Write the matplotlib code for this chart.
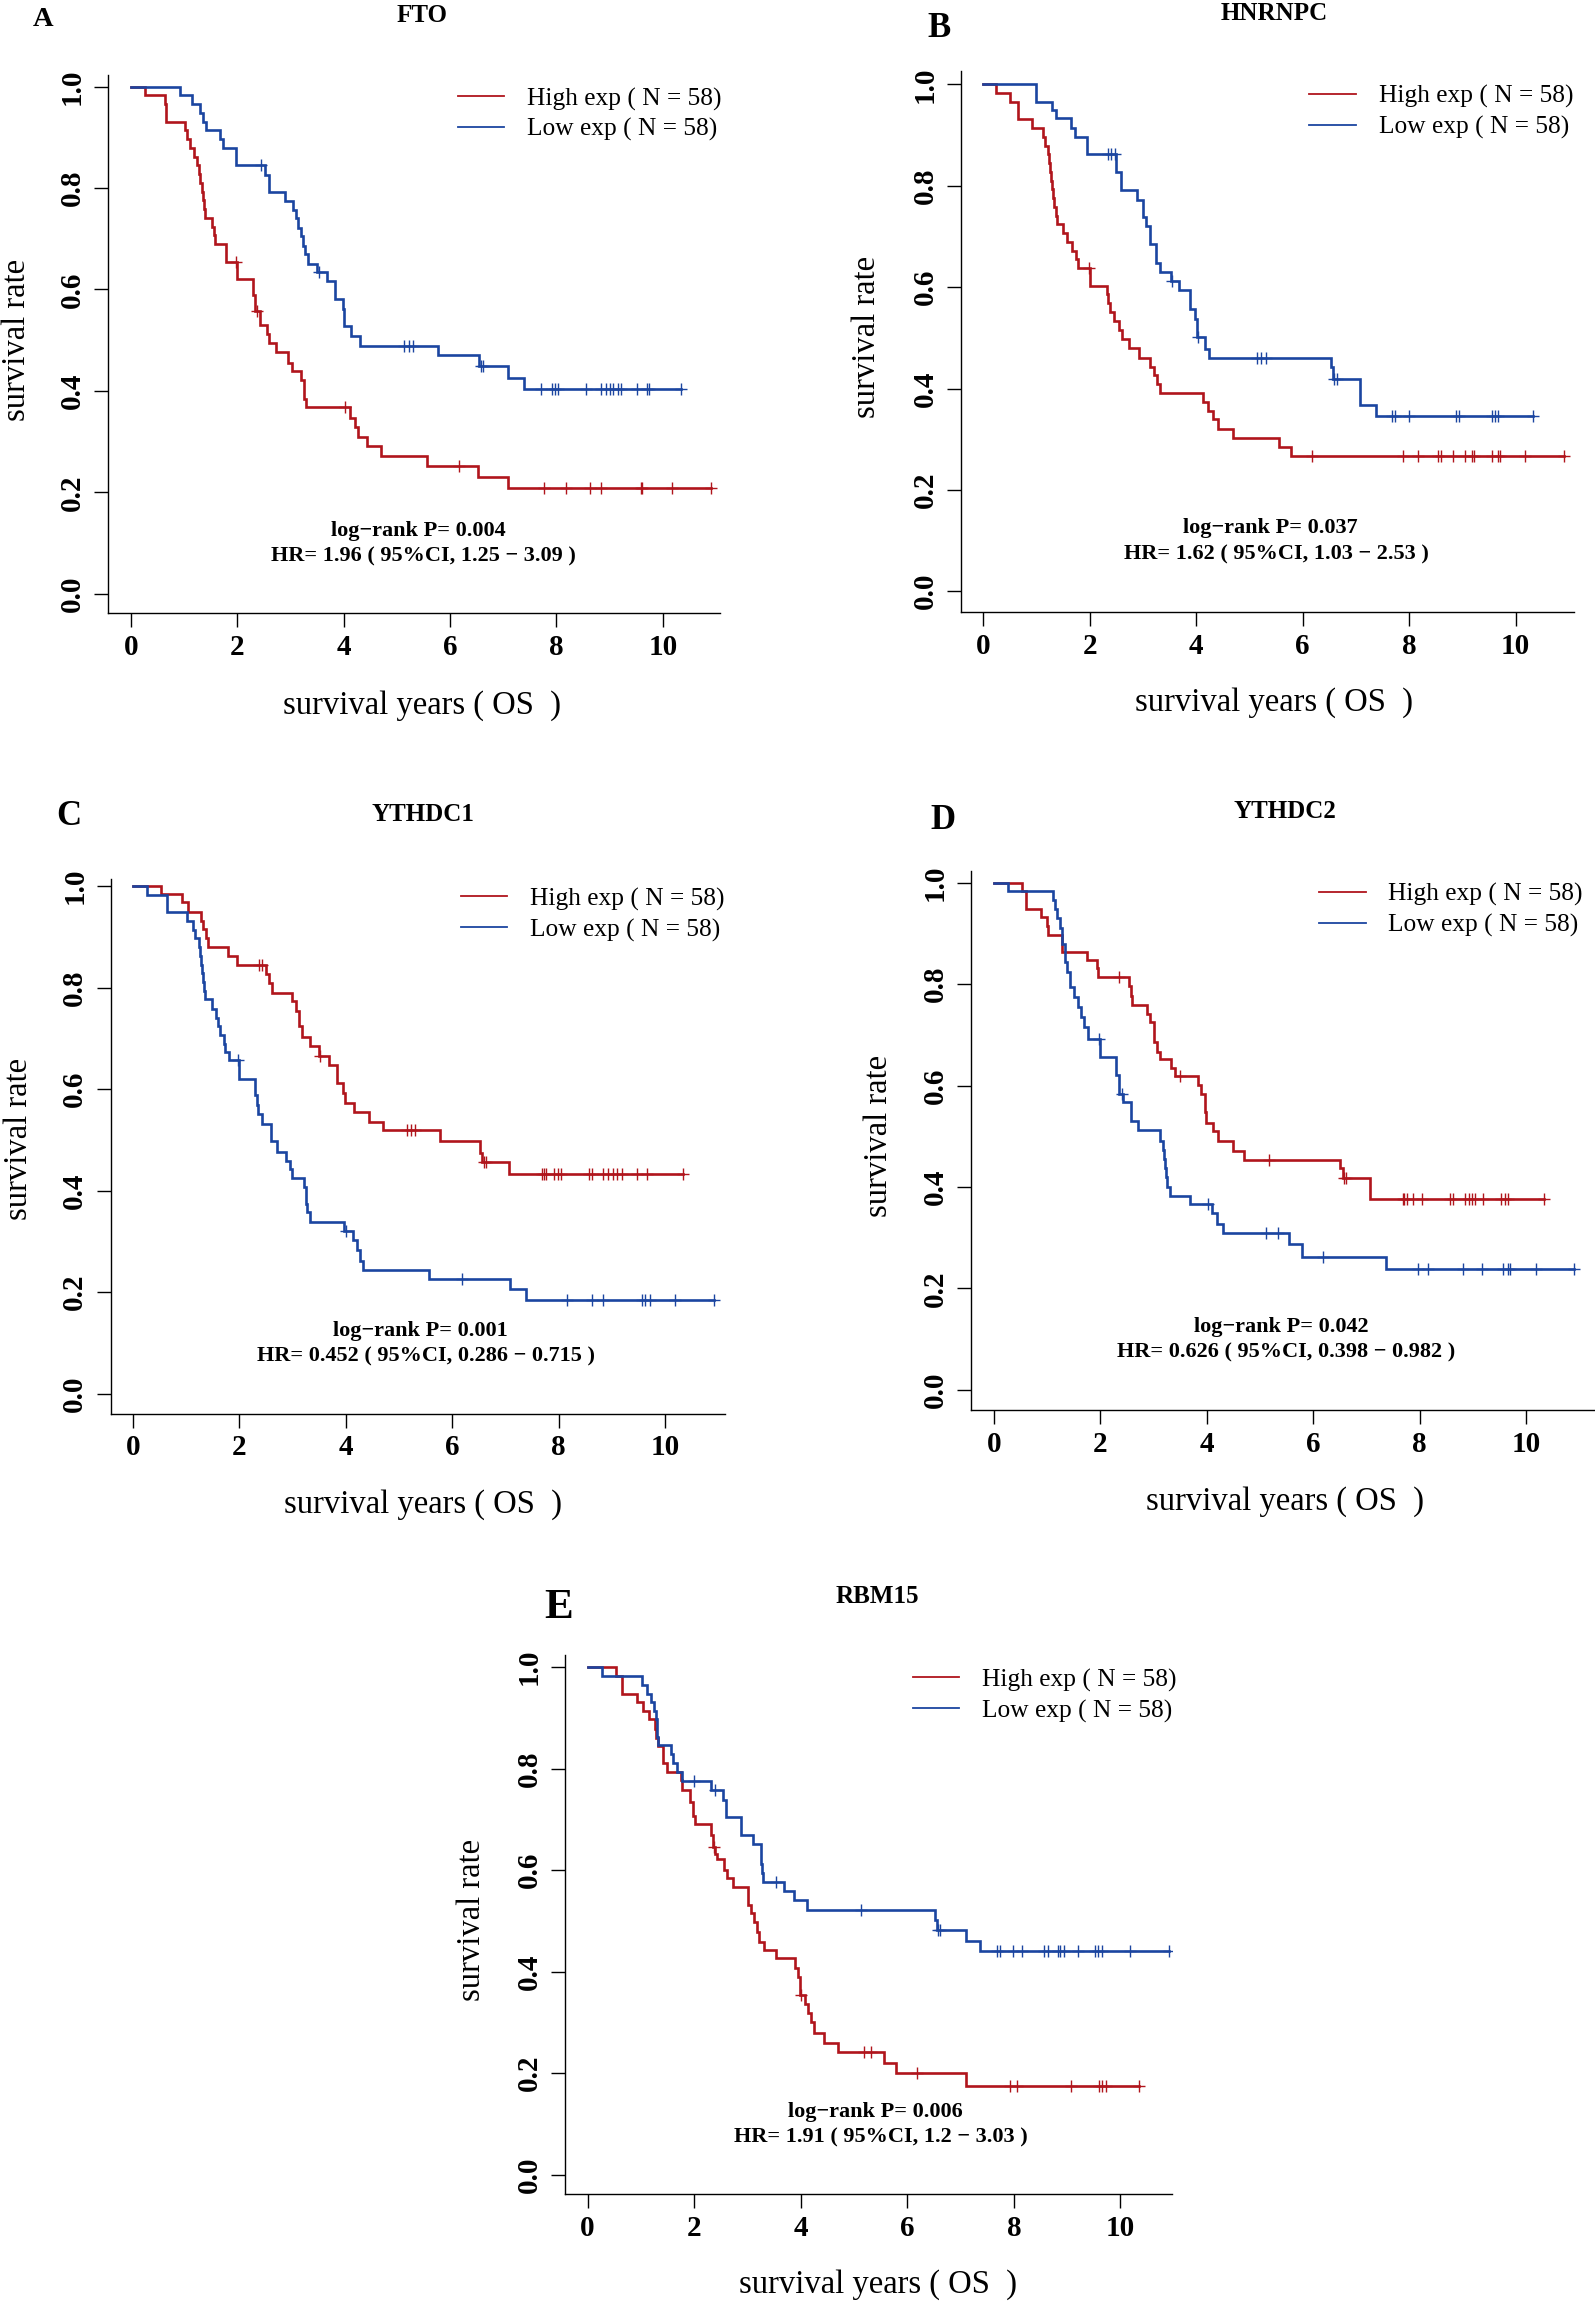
import numpy as np
import matplotlib
matplotlib.use("Agg")
import matplotlib.pyplot as plt
from matplotlib.lines import Line2D

plt.rcParams['font.family'] = ['Liberation Serif', 'DejaVu Serif']

W, H = 1595, 2303
RED = '#B0151C'
BLUE = '#1B45A0'

# ---- data: step times (years), survival after each step, censor times ----
fto_high_t = [0.27, 0.64, 0.66, 1.02, 1.06, 1.12, 1.19, 1.24, 1.28, 1.30, 1.33, 1.35, 1.37, 1.40, 1.52, 1.57, 1.59,
              1.78, 2.00, 2.30, 2.33, 2.43, 2.55, 2.60, 2.73, 2.96, 3.02, 3.19, 3.26, 3.30, 4.12, 4.22, 4.26, 4.44,
              4.71, 5.57, 6.53, 7.09]
fto_high_s = [0.983, 0.966, 0.931, 0.914, 0.897, 0.879, 0.862, 0.845, 0.828, 0.810, 0.793, 0.776, 0.759, 0.741,
              0.724, 0.707, 0.690, 0.655, 0.621, 0.590, 0.558, 0.530, 0.512, 0.495, 0.477, 0.456, 0.440, 0.421,
              0.384, 0.368, 0.347, 0.328, 0.310, 0.291, 0.271, 0.251, 0.231, 0.209]
fto_high_c = [1.98, 2.37, 4.03, 6.17, 7.76, 8.18, 8.63, 8.83, 9.58, 9.61, 10.17, 10.91]
fto_low_t = [0.93, 1.14, 1.29, 1.35, 1.41, 1.68, 1.73, 1.98, 2.53, 2.60, 2.90, 3.05, 3.11, 3.14, 3.19, 3.23, 3.28,
             3.32, 3.50, 3.69, 3.84, 3.99, 4.01, 4.14, 4.30, 5.78, 6.55, 7.09, 7.38]
fto_low_s = [0.983, 0.966, 0.948, 0.931, 0.914, 0.897, 0.879, 0.845, 0.826, 0.793, 0.775, 0.756, 0.740, 0.722,
             0.705, 0.686, 0.670, 0.651, 0.635, 0.617, 0.582, 0.561, 0.528, 0.508, 0.489, 0.471, 0.449, 0.426, 0.403]
fto_low_c = [2.44, 3.53, 5.13, 5.22, 5.31, 6.58, 6.62, 7.70, 7.91, 7.97, 8.03, 8.56, 8.83, 8.93, 9.00, 9.06, 9.15,
             9.22, 9.52, 9.70, 9.74, 10.34]

hnrnpc_high_t = [0.25, 0.51, 0.65, 0.91, 1.13, 1.16, 1.21, 1.24, 1.26, 1.28, 1.30, 1.32, 1.34, 1.36, 1.39, 1.50,
                 1.58, 1.67, 1.75, 1.78, 2.00, 2.32, 2.35, 2.38, 2.45, 2.55, 2.60, 2.74, 2.92, 3.14, 3.20, 3.27,
                 3.32, 4.13, 4.22, 4.31, 4.41, 4.69, 5.55, 5.78]
hnrnpc_high_s = [0.983, 0.966, 0.931, 0.914, 0.897, 0.879, 0.862, 0.845, 0.828, 0.810, 0.793, 0.776, 0.759, 0.741,
                 0.724, 0.707, 0.690, 0.672, 0.655, 0.638, 0.603, 0.586, 0.569, 0.552, 0.534, 0.515, 0.498, 0.480,
                 0.461, 0.443, 0.427, 0.408, 0.391, 0.373, 0.356, 0.339, 0.321, 0.302, 0.284, 0.267]
hnrnpc_high_c = [1.99, 6.17, 7.89, 8.17, 8.54, 8.60, 8.82, 9.05, 9.17, 9.21, 9.56, 9.66, 9.70, 10.17, 10.91]
hnrnpc_low_t = [1.00, 1.30, 1.37, 1.65, 1.73, 1.95, 2.50, 2.58, 2.88, 3.00, 3.06, 3.14, 3.25, 3.32, 3.53, 3.67,
                3.88, 3.97, 4.01, 4.16, 4.24, 6.53, 6.56, 7.08, 7.38]
hnrnpc_low_s = [0.966, 0.950, 0.933, 0.915, 0.897, 0.863, 0.827, 0.791, 0.773, 0.739, 0.720, 0.685, 0.648, 0.629,
                0.613, 0.594, 0.557, 0.538, 0.501, 0.478, 0.461, 0.443, 0.419, 0.368, 0.345]
hnrnpc_low_c = [2.34, 2.40, 2.47, 3.55, 4.04, 5.15, 5.22, 5.32, 6.58, 6.64, 7.68, 7.73, 8.00, 8.87, 8.93, 9.55,
                9.61, 9.67, 10.32]

ythdc1_high_t = [0.53, 0.92, 1.04, 1.29, 1.31, 1.38, 1.41, 1.79, 1.95, 2.51, 2.56, 2.62, 2.99, 3.06, 3.13, 3.17,
                 3.33, 3.49, 3.68, 3.83, 3.95, 3.99, 4.15, 4.44, 4.70, 5.77, 6.52, 6.56, 7.07]
ythdc1_high_s = [0.984, 0.968, 0.948, 0.931, 0.915, 0.898, 0.879, 0.863, 0.844, 0.826, 0.809, 0.790, 0.773, 0.754,
                 0.725, 0.702, 0.685, 0.666, 0.647, 0.611, 0.593, 0.573, 0.554, 0.535, 0.519, 0.497, 0.475, 0.456,
                 0.433]
ythdc1_high_c = [2.38, 2.42, 3.52, 5.15, 5.23, 5.30, 6.59, 6.64, 7.68, 7.72, 7.77, 7.91, 7.98, 8.05, 8.57, 8.63,
                 8.84, 8.93, 9.03, 9.09, 9.19, 9.48, 9.66, 10.33]
ythdc1_low_t = [0.26, 0.65, 1.01, 1.13, 1.17, 1.24, 1.26, 1.28, 1.30, 1.31, 1.33, 1.35, 1.49, 1.56, 1.60, 1.64,
                1.71, 1.74, 1.80, 2.00, 2.30, 2.33, 2.35, 2.42, 2.59, 2.70, 2.88, 2.95, 2.99, 3.22, 3.25, 3.28,
                3.33, 3.97, 4.13, 4.22, 4.26, 4.32, 5.56, 7.09, 7.39]
ythdc1_low_s = [0.982, 0.948, 0.931, 0.914, 0.898, 0.879, 0.862, 0.845, 0.828, 0.810, 0.793, 0.777, 0.758, 0.740,
                0.724, 0.707, 0.688, 0.674, 0.657, 0.619, 0.588, 0.568, 0.550, 0.532, 0.497, 0.477, 0.458, 0.442,
                0.425, 0.407, 0.374, 0.357, 0.339, 0.320, 0.302, 0.283, 0.261, 0.244, 0.225, 0.206, 0.185]
ythdc1_low_c = [1.97, 4.00, 6.18, 8.16, 8.63, 8.84, 9.57, 9.62, 9.71, 10.18, 10.91]

ythdc2_high_t = [0.52, 0.61, 0.89, 0.99, 1.02, 1.28, 1.75, 1.93, 1.95, 2.54, 2.57, 2.60, 2.88, 2.94, 3.00, 3.01,
                 3.06, 3.12, 3.33, 3.40, 3.84, 3.89, 3.96, 3.97, 3.99, 4.12, 4.21, 4.49, 4.70, 6.51, 6.56, 7.07]
ythdc2_high_s = [0.983, 0.949, 0.932, 0.914, 0.897, 0.863, 0.847, 0.831, 0.815, 0.796, 0.777, 0.758, 0.742, 0.725,
                 0.705, 0.686, 0.667, 0.653, 0.634, 0.618, 0.602, 0.583, 0.565, 0.548, 0.526, 0.510, 0.491, 0.471,
                 0.454, 0.438, 0.417, 0.376]
ythdc2_high_c = [2.35, 3.49, 5.17, 6.58, 6.61, 7.68, 7.71, 7.77, 7.88, 8.05, 8.58, 8.62, 8.86, 8.92, 8.98, 9.04,
                 9.20, 9.53, 9.60, 9.67, 10.33]
ythdc2_low_t = [0.26, 1.10, 1.14, 1.19, 1.24, 1.28, 1.33, 1.37, 1.42, 1.51, 1.58, 1.64, 1.70, 1.77, 2.00, 2.30,
                2.35, 2.42, 2.58, 2.70, 3.12, 3.17, 3.20, 3.22, 3.23, 3.25, 3.31, 3.68, 4.10, 4.19, 4.30, 5.54,
                5.79, 7.37]
ythdc2_low_s = [0.983, 0.966, 0.949, 0.930, 0.911, 0.880, 0.844, 0.825, 0.794, 0.774, 0.755, 0.736, 0.715, 0.691,
                0.656, 0.620, 0.583, 0.567, 0.531, 0.512, 0.490, 0.473, 0.455, 0.437, 0.419, 0.401, 0.383, 0.366,
                0.349, 0.328, 0.309, 0.287, 0.263, 0.239]
ythdc2_low_c = [1.98, 2.40, 4.02, 5.12, 5.33, 6.19, 7.97, 8.16, 8.81, 9.18, 9.57, 9.67, 9.69, 10.19, 10.90]

rbm15_high_t = [0.54, 0.64, 0.93, 1.05, 1.16, 1.26, 1.29, 1.32, 1.41, 1.50, 1.75, 1.78, 1.93, 1.97, 2.02, 2.32,
                2.35, 2.40, 2.43, 2.57, 2.62, 2.73, 3.02, 3.07, 3.13, 3.18, 3.22, 3.32, 3.54, 3.89, 3.95, 3.98,
                3.99, 4.09, 4.14, 4.20, 4.25, 4.43, 4.70, 5.57, 5.78, 7.10]
rbm15_high_s = [0.982, 0.947, 0.931, 0.914, 0.897, 0.878, 0.861, 0.844, 0.811, 0.794, 0.777, 0.758, 0.734, 0.706,
                0.690, 0.669, 0.646, 0.632, 0.621, 0.600, 0.584, 0.567, 0.531, 0.515, 0.497, 0.478, 0.459, 0.443,
                0.427, 0.408, 0.390, 0.371, 0.354, 0.336, 0.318, 0.300, 0.280, 0.260, 0.242, 0.221, 0.200, 0.175]
rbm15_high_c = [2.37, 4.01, 5.19, 5.32, 6.19, 7.92, 8.05, 9.07, 9.60, 9.66, 9.72, 10.35]
rbm15_low_t = [0.27, 1.02, 1.11, 1.20, 1.25, 1.28, 1.30, 1.31, 1.33, 1.56, 1.61, 1.68, 1.77, 2.32, 2.54, 2.59,
               2.88, 3.11, 3.25, 3.28, 3.30, 3.69, 3.87, 4.11, 6.52, 6.56, 7.10, 7.37]
rbm15_low_s = [0.982, 0.964, 0.947, 0.931, 0.914, 0.897, 0.880, 0.863, 0.847, 0.828, 0.810, 0.794, 0.775, 0.758,
               0.739, 0.704, 0.669, 0.651, 0.613, 0.594, 0.576, 0.559, 0.541, 0.522, 0.501, 0.483, 0.461, 0.441]
rbm15_low_c = [2.00, 2.40, 3.54, 5.13, 6.57, 6.62, 7.69, 7.74, 7.98, 8.16, 8.57, 8.64, 8.82, 8.86, 8.94, 9.21,
               9.53, 9.57, 9.66, 10.18, 10.91]

genes = ['FTO', 'HNRNPC', 'YTHDC1', 'YTHDC2', 'RBM15']
letters = ['A', 'B', 'C', 'D', 'E']
pvals = ['0.004', '0.037', '0.001', '0.042', '0.006']
hr_text = ['1.96 ( 95%CI, 1.25 \u2212 3.09 )', '1.62 ( 95%CI, 1.03 \u2212 2.53 )',
           '0.452 ( 95%CI, 0.286 \u2212 0.715 )', '0.626 ( 95%CI, 0.398 \u2212 0.982 )',
           '1.91 ( 95%CI, 1.2 \u2212 3.03 )']
high_curves = [(fto_high_t, fto_high_s, fto_high_c), (hnrnpc_high_t, hnrnpc_high_s, hnrnpc_high_c),
               (ythdc1_high_t, ythdc1_high_s, ythdc1_high_c), (ythdc2_high_t, ythdc2_high_s, ythdc2_high_c),
               (rbm15_high_t, rbm15_high_s, rbm15_high_c)]
low_curves = [(fto_low_t, fto_low_s, fto_low_c), (hnrnpc_low_t, hnrnpc_low_s, hnrnpc_low_c),
              (ythdc1_low_t, ythdc1_low_s, ythdc1_low_c), (ythdc2_low_t, ythdc2_low_s, ythdc2_low_c),
              (rbm15_low_t, rbm15_low_s, rbm15_low_c)]
xticks = [0, 2, 4, 6, 8, 10]
yticks = [0.0, 0.2, 0.4, 0.6, 0.8, 1.0]

# ---- layout in pixels of the reference image ----
# axes box: left, right, top, bottom ; xlim ; ylim
boxes = [(107.6, 719.8, 75.5, 613.5, (-0.438, 11.07), (-0.039, 1.022)),
         (960.9, 1573.8, 70.8, 612.0, (-0.417, 11.09), (-0.041, 1.027)),
         (110.5, 724.7, 879.4, 1413.5, (-0.419, 11.12), (-0.039, 1.013)),
         (970.8, 1593.6, 871.1, 1410.2, (-0.436, 11.27), (-0.040, 1.023)),
         (565.2, 1171.6, 1654.8, 2194.1, (-0.419, 10.96), (-0.038, 1.024))]
ylab_pos = [(17, 340), (867, 337.4), (18.4, 1138.7), (878.3, 1136.3), (472.1, 1920.2)]
xlab_pos = [(421.7, 705.5), (1273.8, 702.2), (422.7, 1504.7), (1284.7, 1501.3), (877.8, 2285.1)]
title_pos = [(421.7, 22.2), (1273.8, 19.8), (422.7, 821.2), (1284.7, 817.8), (877.8, 1602.7)]
letter_pos = [(42.7, 26, 20.5), (938.6, 36.8, 25), (69.3, 824.6, 25), (942.6, 829.4, 25), (558.4, 1617.8, 31)]
legend_pos = [(458, 114.4), (1309.4, 112), (460.5, 914.6), (1319.3, 910.2), (913.2, 1695.6)]


def fx(x):
    return x / W


def fy(y):
    return 1 - y / H


def km_plot(ax, t, s, c, color):
    t = np.asarray(t)
    s = np.asarray(s)
    c = np.asarray(c)
    end = max(c.max(), t.max())
    xs = np.concatenate([[0.0], t, [end]])
    ys = np.concatenate([[1.0], s, [s[-1]]])
    ax.step(xs, ys, where='post', color=color, lw=1.9, solid_joinstyle='miter')
    levels = np.concatenate([[1.0], s])
    cy = levels[np.searchsorted(t, c, side='right')]
    ax.plot(c, cy, ls='none', marker='+', ms=8.5, mew=1.0, color=color)


fig = plt.figure(figsize=(W / 100, H / 100), dpi=100)

for i in range(5):
    l, r, tp, b, xl, yl = boxes[i]
    ax = fig.add_axes([fx(l), fy(b), (r - l) / W, (b - tp) / H])
    km_plot(ax, *high_curves[i], RED)
    km_plot(ax, *low_curves[i], BLUE)
    ax.set_xlim(*xl)
    ax.set_ylim(*yl)
    ax.spines['top'].set_visible(False)
    ax.spines['right'].set_visible(False)
    for sp in ('left', 'bottom'):
        ax.spines[sp].set_linewidth(1.0)
    ax.set_xticks(xticks)
    ax.set_xticklabels([str(v) for v in xticks], fontsize=21, fontweight='bold')
    ax.set_yticks(yticks)
    ax.set_yticklabels(['%.1f' % v for v in yticks], fontsize=21, fontweight='bold',
                       rotation=90, va='center')
    ax.tick_params(axis='both', direction='out', length=10, width=1.0)
    ax.tick_params(axis='x', pad=5)
    ax.tick_params(axis='y', pad=6)

    ax.text(5.4, 0.124, 'log\u2212rank P= ' + pvals[i], ha='center', va='center',
            fontsize=16, fontweight='bold')
    ax.text(5.5, 0.073, 'HR= ' + hr_text[i], ha='center', va='center',
            fontsize=16, fontweight='bold')

    handles = [Line2D([], [], color=RED, lw=1.3), Line2D([], [], color=BLUE, lw=1.3)]
    lx, ly = legend_pos[i]
    ax.legend(handles, ['High exp ( N = 58)', 'Low exp ( N = 58)'], loc='center left',
              bbox_to_anchor=(fx(lx), fy(ly)), bbox_transform=fig.transFigure, frameon=False,
              fontsize=18.3, borderpad=0, borderaxespad=0, handlelength=1.82,
              handletextpad=0.9, labelspacing=0.3)

    x, y = ylab_pos[i]
    fig.text(fx(x), fy(y), 'survival rate', rotation=90, ha='center', va='center', fontsize=23.5)
    x, y = xlab_pos[i]
    fig.text(fx(x), fy(y), 'survival years ( OS  )', ha='center', va='center', fontsize=23.5)
    x, y = title_pos[i]
    fig.text(fx(x), fy(y), genes[i], ha='center', va='baseline', fontsize=18, fontweight='bold')
    x, y, sz = letter_pos[i]
    fig.text(fx(x), fy(y), letters[i], ha='center', va='baseline', fontsize=sz, fontweight='bold')

fig.savefig('out.png', dpi=100, facecolor='white')
